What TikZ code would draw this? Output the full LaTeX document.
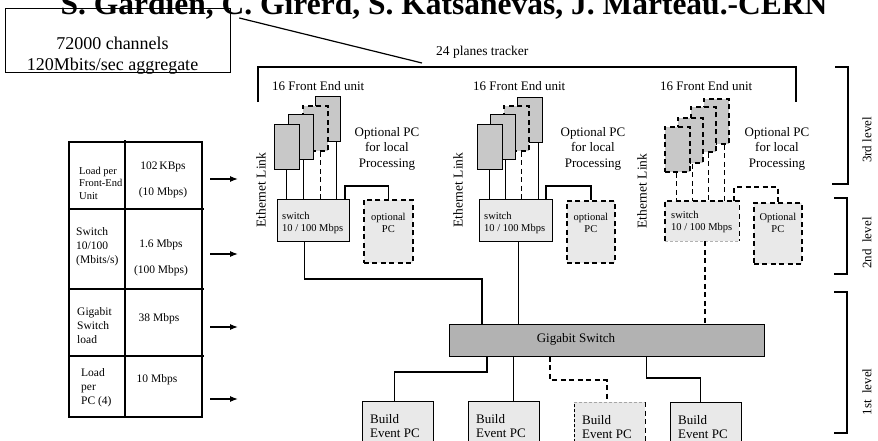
\documentclass[tikz,border=0pt]{standalone}
\usepackage{fontspec}
\setmainfont{Liberation Serif}
\usetikzlibrary{arrows.meta,calc}
\definecolor{fegray}{RGB}{200,200,200}
\definecolor{boxgray}{RGB}{233,233,233}
\definecolor{gigagray}{RGB}{178,178,178}
\newcommand{\fsz}[2]{\fontsize{#1}{#2}\selectfont}
\begin{document}
\begin{tikzpicture}[x=1pt,y=-1pt,line join=miter,
  conn/.style={line width=1.2pt},
  dl/.style={line width=1.8pt,dash pattern=on 5pt off 3.5pt},
  thindash/.style={line width=0.8pt,dash pattern=on 3pt off 2pt},
  fe/.style={draw,line width=1.3pt,fill=fegray,anchor=north west,inner sep=0,minimum width=25pt,minimum height=45pt},
  sw/.style={fill=boxgray,anchor=north west,inner sep=0,minimum width=72pt,minimum height=42pt},
  opc/.style={draw,fill=boxgray,anchor=north west,inner sep=0,minimum width=49pt,minimum height=63pt,dl},
  bepc/.style={fill=boxgray,anchor=north west,inner sep=0,minimum width=71pt,minimum height=60pt},
  txt/.style={inner sep=0,font=\fsz{13}{15.5}},
  small/.style={inner sep=0,font=\fsz{10.5}{12}},
  tab/.style={inner sep=0,font=\fsz{11.5}{14.2},align=left,anchor=north west},
  arr/.style={-{Latex[length=8pt,width=6pt]},line width=1.2pt}]
\useasboundingbox (0,0) rectangle (878,440);
\fill[white] (0,0) rectangle (878,440);
\clip (0,0) rectangle (878,440);

% heading
\node[inner sep=0,anchor=base,font=\bfseries\fsz{31.5}{36}] (title) at (444,14)
  {S. Gardien, C. Girerd, S. Katsanevas, J. Marteau.-CERN};

% channel count box and tracker outline
\node[draw,line width=1.3pt,anchor=north west,inner sep=0,minimum width=225pt,minimum height=64pt] (chan) at (5,8) {};
\node[inner sep=0,font=\fsz{18}{21},align=center,anchor=north] (chant) at (112.5,36.7)
  {72000 channels\\120Mbits/sec aggregate};
\coordinate (trkin) at (422,63);
\draw[conn] ([xshift=8pt,yshift=-10pt]chan.north east) -- (trkin);
\coordinate (trkL) at (258,102);
\coordinate (trkR) at (796,102);
\draw[line width=1.3pt] (trkL) |- (796,67) -- (trkR);
\node[txt,font=\fsz{13.5}{16},anchor=base west] (trkt) at (436,55) {24 planes tracker};

% front end labels
\node[txt,anchor=base west] (fel1) at (272,90) {16 Front End unit};
\node[txt,anchor=base west] (fel2) at (473,90) {16 Front End unit};
\node[txt,anchor=base west] (fel3) at (660,90) {16 Front End unit};

% ---------- group 1 ----------
\node[fe] (f1d) at (315,96) {};
\node[fe,dl] (f1c) at (302,105) {};
\node[fe] (f1b) at (288,114) {};
\node[fe] (f1a) at (274,124) {};
\node[sw,draw,line width=1.3pt] (s1) at (277,199) {};
\node[small,align=left,anchor=north west] (s1t) at ([xshift=5pt,yshift=-12.8pt]s1.north west) {switch\\10 / 100 Mbps};
\draw[conn] ([xshift=-1pt]f1a.south) -- ([xshift=-1pt]f1a.south |- s1.north);
\draw[conn] ([xshift=2pt]f1b.south) -- ([xshift=2pt]f1b.south |- s1.north);
\draw[dl] ([xshift=5pt]f1c.south) -- ([xshift=5pt]f1c.south |- s1.north);
\draw[conn] ([xshift=8pt]f1d.south) -- ([xshift=8pt]f1d.south |- s1.north);
\node[opc] (o1) at (363,199) {};
\node[small,align=center,anchor=north] (o1t) at ([yshift=-13.8pt]o1.north) {optional\\PC};
\coordinate (h1) at (345,186);
\draw[conn] (h1 |- s1.north) -- (h1) -| (o1.north);
\node[txt,align=center,anchor=north] (p1) at (387,127) {Optional PC\\for local\\Processing};
\node[txt,font=\fsz{13.5}{16},rotate=90] (e1) at (261,190) {Ethernet Link};

% ---------- group 2 ----------
\node[fe] (f2d) at (517,97) {};
\node[fe,dl] (f2c) at (503,105) {};
\node[fe] (f2b) at (490,114) {};
\node[fe] (f2a) at (477,124) {};
\node[sw,draw,line width=1.3pt,minimum width=73pt] (s2) at (479,199) {};
\node[small,align=left,anchor=north west] (s2t) at ([xshift=5pt,yshift=-12.8pt]s2.north west) {switch\\10 / 100 Mbps};
\draw[conn] ([xshift=-1pt]f2a.south) -- ([xshift=-1pt]f2a.south |- s2.north);
\draw[conn] ([xshift=2pt]f2b.south) -- ([xshift=2pt]f2b.south |- s2.north);
\draw[dl] ([xshift=5pt]f2c.south) -- ([xshift=5pt]f2c.south |- s2.north);
\draw[conn] ([xshift=8pt]f2d.south) -- ([xshift=8pt]f2d.south |- s2.north);
\node[opc,minimum width=48pt,minimum height=62pt] (o2) at (566,200) {};
\node[small,align=center,anchor=north] (o2t) at ([yshift=-12.8pt]o2.north) {optional\\PC};
\coordinate (h2) at (546,186);
\draw[conn] (h2 |- s2.north) -- (h2) -| (o2.north);
\node[txt,align=center,anchor=north] (p2) at (593,127) {Optional PC\\for local\\Processing};
\node[txt,font=\fsz{13.5}{16},rotate=90] (e2) at (458,190) {Ethernet Link};

% ---------- group 3 (optional) ----------
\node[fe,dl] (f3d) at (703,98) {};
\node[fe,dl] (f3c) at (690,106) {};
\node[fe,dl] (f3b) at (677,117) {};
\node[fe,dl] (f3a) at (664,126) {};
\node[sw,minimum width=74pt,minimum height=40pt] (s3) at (665,201) {};
\draw[dl] (s3.south west) -- (s3.north west) -- (s3.north east) -- (s3.south east);
\draw[thindash,gray!60] (s3.south west) -- (s3.south east);
\node[small,align=left,anchor=north west] (s3t) at ([xshift=6pt,yshift=-9.8pt]s3.north west) {switch\\10 / 100 Mbps};
\draw[dl] ([xshift=-1pt]f3a.south) -- ([xshift=-1pt]f3a.south |- s3.north);
\draw[dl] ([xshift=2pt]f3b.south) -- ([xshift=2pt]f3b.south |- s3.north);
\draw[dl] ([xshift=5pt]f3c.south) -- ([xshift=5pt]f3c.south |- s3.north);
\draw[dl] ([xshift=8pt]f3d.south) -- ([xshift=8pt]f3d.south |- s3.north);
\node[opc,minimum width=48pt,minimum height=61pt] (o3) at (753,202) {};
\node[small,align=center,anchor=north] (o3t) at ([yshift=-10.8pt]o3.north) {Optional\\PC};
\coordinate (h3) at (734,187);
\draw[dl] (h3 |- s3.north) -- (h3) -| (o3.north);
\node[txt,align=center,anchor=north] (p3) at (777,127) {Optional PC\\for local\\Processing};
\node[txt,font=\fsz{13.5}{16},rotate=90] (e3) at (642,191) {Ethernet Link};

% ---------- gigabit switch ----------
\node[draw,line width=1.3pt,fill=gigagray,anchor=north west,inner sep=0,minimum width=315pt,minimum height=32pt] (g) at (449,323.5) {};
\node[txt,anchor=base] (gt) at (576,342.7) {Gigabit Switch};
\coordinate (j1) at (482,279);
\draw[conn] ([xshift=-9pt]s1.south) |- (j1) -- (j1 |- g.north);
\draw[conn] ([xshift=2.5pt]s2.south) -- ([xshift=2.5pt]s2.south |- g.north);
\draw[dl] ([xshift=3pt]s3.south) -- ([xshift=3pt]s3.south |- g.north);

% ---------- build event PCs ----------
\node[bepc,draw,line width=1.3pt] (b1) at (362,401) {};
\node[bepc,draw,line width=1.3pt] (b2) at (468,401) {};
\node[bepc] (b3) at (574,402) {};
\draw[thindash] (b3.south west) -- (b3.north west);
\draw[thindash,gray!70] (b3.north west) -- (b3.north east);
\draw[dl] (b3.north east) -- (b3.south east);
\node[bepc,draw,line width=1.3pt] (b4) at (670,402) {};
\foreach \b in {b1,b2,b3,b4}
  \node[txt,font=\fsz{13}{14},align=left,anchor=north west] (\b t) at ([xshift=8pt,yshift=-13.5pt]\b.north west) {Build\\Event PC};
\coordinate (c1) at (487,372);
\draw[conn] (c1 |- g.south) -- (c1) -| ([xshift=-4pt]b1.north);
\draw[conn] ([xshift=9pt]b2.north) -- ([xshift=9pt]b2.north |- g.south);
\coordinate (c3) at (550,380);
\draw[dl] (c3 |- g.south) -- (c3) -| ([xshift=-3pt]b3.north);
\coordinate (c4) at (646.5,378);
\draw[conn] (c4 |- g.south) -- (c4) -| ([xshift=-6pt]b4.north);

% ---------- level brackets ----------
\draw[line width=1.3pt] (835,67) -- (848,67) -- (848,184) -- (832,184);
\draw[line width=1.3pt] (834,198) -- (847,198) -- (847,274) -- (834,274);
\draw[line width=1.3pt] (834,292) -- (847,292) -- (847,433) -- (834,433);
\node[txt,rotate=90] (l3) at (867,140) {3rd level};
\node[txt,rotate=90] (l2) at (867,243) {2nd\ \ level};
\node[txt,rotate=90] (l1) at (867,392) {1st\ \ level};

% ---------- load table ----------
\draw[line width=1.3pt] (69,142) rectangle (202,417);
\draw[line width=1.3pt] (125,140) -- (125,417);
\draw[line width=1.2pt] (69,209) -- (204,209);
\draw[line width=1.2pt] (69,289) -- (204,289);
\draw[line width=1.2pt] (69,356) -- (204,356);
\node[tab,font=\fsz{10.5}{12.5}] (r1l) at (79,166.8) {Load per\\Front-End\\Unit};
\node[tab,font=\fsz{11.5}{26},align=center,anchor=north] (r1r) at (163,162) {102\,KBps\\(10 Mbps)};
\node[tab] (r2l) at (76,227) {Switch\\10/100\\(Mbits/s)};
\node[tab,font=\fsz{11.5}{26},align=center,anchor=north] (r2r) at (161,239) {1.6 Mbps\\(100 Mbps)};
\node[tab] (r3l) at (77,307) {Gigabit\\Switch\\load};
\node[tab,align=center,anchor=north] (r3r) at (159,313) {38 Mbps};
\node[tab] (r4l) at (81,368) {Load\\per\\PC (4)};
\node[tab,align=center,anchor=north] (r4r) at (157,374) {10 Mbps};
\foreach \y [count=\i] in {179,254,327,399} {
  \coordinate (a\i s) at (210,\y);
  \coordinate (a\i e) at (238,\y);
  \draw[arr] (a\i s) -- (a\i e);
}
\end{tikzpicture}
\end{document}
